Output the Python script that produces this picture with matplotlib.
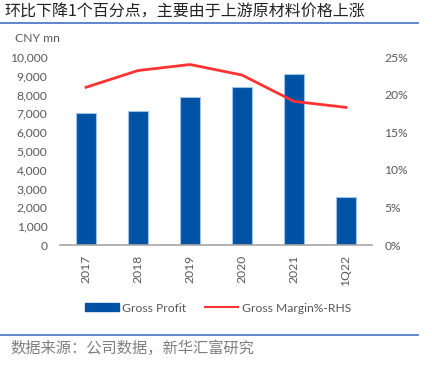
import matplotlib
matplotlib.use("Agg")
import matplotlib.pyplot as plt
from matplotlib.lines import Line2D
from matplotlib.ticker import FuncFormatter

categories = ["2017", "2018", "2019", "2020", "2021", "1Q22"]
gross_profit = [7020, 7110, 7860, 8390, 9110, 2550]
gross_margin = [20.97, 23.2, 24.0, 22.6, 19.1, 18.3]
left_ticks = list(range(0, 10001, 1000))
right_ticks = [0, 5, 10, 15, 20, 25]

plt.rcParams['font.family'] = ['Lato', 'DejaVu Sans']
grey = '#595959'
bar_color = '#0052A5'
line_color = '#FF3333'

fig = plt.figure(figsize=(4.32, 3.68), dpi=100)
ax = fig.add_axes([60/432, 1-245/368, 312/432, (245-57)/368])
x = list(range(len(categories)))
bars = ax.bar(x, gross_profit, width=0.4, color=bar_color, edgecolor='#9DC3E6', linewidth=0.8, zorder=2)
ax.set_xlim(-0.5, 5.5)
ax.set_ylim(0, 10000)
ax.set_yticks(left_ticks)
ax.yaxis.set_major_formatter(FuncFormatter(lambda v, p: f"{int(v):,}"))
ax.set_xticks(x)
ax.set_xticklabels(categories, rotation=90, color=grey, fontsize=8.5)
ax.tick_params(axis='both', length=0, labelsize=8.7, colors=grey)
ax.tick_params(axis='y', pad=9)
ax.tick_params(axis='x', pad=7)
for s in ['top', 'right', 'left']:
    ax.spines[s].set_visible(False)
ax.spines['bottom'].set_color('#A6A6A6')
ax.spines['bottom'].set_linewidth(1.2)

ax2 = ax.twinx()
ax2.plot(x, gross_margin, color=line_color, linewidth=2, zorder=3)
ax2.set_ylim(0, 25)
ax2.set_yticks(right_ticks)
ax2.set_yticklabels([f"{t}%" for t in right_ticks])
ax2.tick_params(axis='y', length=0, labelsize=8.7, colors=grey, pad=9)
for s in ['top', 'right', 'left', 'bottom']:
    ax2.spines[s].set_visible(False)

fig.text(15/432, 1-38/368, "CNY mn", fontsize=8.7, color=grey, va='center', ha='left')

handles = [plt.Rectangle((0, 0), 1, 1, color=bar_color),
           Line2D([0], [0], color=line_color, linewidth=1.5)]
fig.legend(handles, ["Gross Profit", "Gross Margin%-RHS"], loc='center',
           bbox_to_anchor=(218/432, 1-308/368), ncol=2, frameon=False,
           fontsize=8.7, labelcolor=grey, handlelength=2.8, handleheight=0.6,
           columnspacing=1.5, handletextpad=0.3)

fig.text(4/432, 1-12/368, "环比下降1个百分点，主要由于上游原材料价格上涨",
         fontsize=11.5, color='#222222', va='center', ha='left',
         family=['Noto Sans CJK SC', 'DejaVu Sans'])
fig.add_artist(Line2D([0, 418/432], [1-23/368, 1-23/368], color='#4472C4', linewidth=1.2))
fig.add_artist(Line2D([0, 418/432], [1-335/368, 1-335/368], color='#4472C4', linewidth=1.2))
fig.text(10/432, 1-348/368, "数据来源：公司数据，新华汇富研究",
         fontsize=11, color='#7F7F7F', va='center', ha='left',
         family=['Noto Sans CJK SC', 'DejaVu Sans'])

fig.savefig("out.png", dpi=100)
